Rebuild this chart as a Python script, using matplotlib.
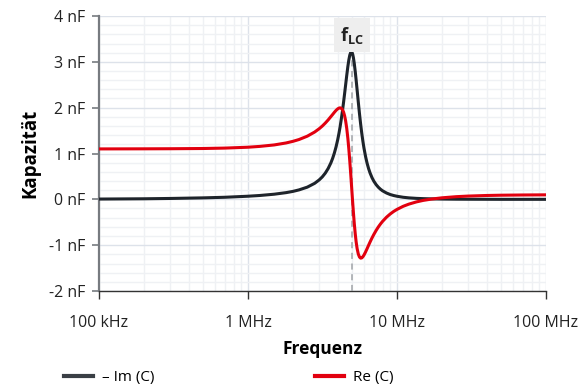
import matplotlib
matplotlib.use("Agg")
import matplotlib.pyplot as plt
from matplotlib.ticker import FixedLocator, LogLocator, NullFormatter
from matplotlib.lines import Line2D

# frequency points (MHz)
freq_mhz = [0.1, 0.2, 0.3, 0.5, 0.7, 1, 1.2, 1.5, 1.8, 2, 2.2, 2.5, 2.8, 3,
            3.15, 3.3, 3.45, 3.6, 3.7, 3.8, 3.9, 4.0, 4.08, 4.15, 4.22, 4.3,
            4.38, 4.45, 4.52, 4.6, 4.68, 4.75, 4.82, 4.9, 4.95, 5.0, 5.05,
            5.1, 5.17, 5.25, 5.32, 5.4, 5.5, 5.6, 5.7, 5.8, 5.9, 6.0, 6.15,
            6.3, 6.45, 6.6, 6.8, 7, 7.25, 7.5, 7.75, 8, 8.5, 9, 9.5, 10, 11,
            12, 13.5, 15, 17, 20, 25, 30, 40, 50, 70, 100]

# -Im(C) in nF
im_c = [0.006, 0.012, 0.019, 0.032, 0.045, 0.068, 0.084, 0.112, 0.146, 0.173,
        0.206, 0.266, 0.349, 0.422, 0.489, 0.571, 0.672, 0.796, 0.896, 1.012,
        1.146, 1.301, 1.443, 1.581, 1.732, 1.919, 2.121, 2.307, 2.495, 2.706,
        2.899, 3.040, 3.146, 3.212, 3.219, 3.200, 3.156, 3.088, 2.959, 2.776,
        2.598, 2.384, 2.119, 1.869, 1.644, 1.445, 1.272, 1.122, 0.936, 0.787,
        0.668, 0.572, 0.471, 0.393, 0.319, 0.263, 0.220, 0.186, 0.138, 0.105,
        0.083, 0.067, 0.045, 0.032, 0.021, 0.015, 0.010, 0.006, 0.003, 0.002,
        0.001, 0.0, 0.0, 0.0]

# Re(C) in nF
re_c = [1.100, 1.102, 1.104, 1.109, 1.118, 1.137, 1.155, 1.187, 1.230, 1.265,
        1.305, 1.378, 1.468, 1.539, 1.598, 1.663, 1.732, 1.805, 1.852, 1.899,
        1.941, 1.974, 1.991, 1.996, 1.989, 1.960, 1.903, 1.824, 1.715, 1.546,
        1.328, 1.098, 0.838, 0.515, 0.307, 0.100, -0.101, -0.291, -0.533,
        -0.767, -0.932, -1.075, -1.194, -1.259, -1.283, -1.278, -1.253,
        -1.217, -1.149, -1.075, -1.000, -0.929, -0.841, -0.763, -0.676,
        -0.601, -0.537, -0.481, -0.390, -0.320, -0.264, -0.220, -0.152,
        -0.105, -0.056, -0.023, 0.005, 0.033, 0.058, 0.071, 0.084, 0.090,
        0.095, 0.098]

f_lc = 5.0  # MHz
x_ticks = [0.1, 1, 10, 100]
x_labels = ["100 kHz", "1 MHz", "10 MHz", "100 MHz"]
y_ticks = [-2, -1, 0, 1, 2, 3, 4]
y_labels = ["-2 nF", "-1 nF", "0 nF", "1 nF", "2 nF", "3 nF", "4 nF"]

plt.rcParams['font.family'] = ['Open Sans', 'DejaVu Sans']
plt.rcParams['mathtext.fontset'] = 'custom'
plt.rcParams['mathtext.rm'] = 'Open Sans'
plt.rcParams['mathtext.bf'] = 'Open Sans:bold'

black = '#1e242b'
red = '#e2000f'

fig = plt.figure(figsize=(5.87, 3.92), dpi=100)
ax = fig.add_axes([99 / 587, 1 - 291 / 392, 447 / 587, 275 / 392])

ax.plot(freq_mhz, im_c, color=black, lw=2.2, zorder=4, solid_capstyle='round')
ax.plot(freq_mhz, re_c, color=red, lw=2.2, zorder=5, solid_capstyle='round')
ax.plot([f_lc, f_lc], [-2, 3.3], color='#a0a4a8', lw=1.1, ls=(0, (4, 3)), zorder=3)

ax.set_xscale('log')
ax.set_xlim(0.1, 100)
ax.set_ylim(-2, 4)

ax.xaxis.set_major_locator(FixedLocator(x_ticks))
ax.set_xticklabels(x_labels)
ax.xaxis.set_minor_locator(LogLocator(base=10, subs=range(2, 10)))
ax.xaxis.set_minor_formatter(NullFormatter())
ax.yaxis.set_major_locator(FixedLocator(y_ticks))
ax.set_yticklabels(y_labels)
ax.yaxis.set_minor_locator(FixedLocator([v / 5 for v in range(-10, 21)]))

ax.grid(which='major', color='#dde2ea', lw=1.0, zorder=0)
ax.grid(which='minor', color='#eff1f4', lw=1.0, zorder=0)
ax.set_axisbelow(True)

ax.tick_params(axis='x', which='major', length=6, width=1, color='#333333',
               labelsize=11.5, pad=11, labelcolor='#222222')
ax.tick_params(axis='y', which='major', length=5, width=1.2, color='#777b80',
               labelsize=11.5, pad=5, labelcolor='#222222')
ax.tick_params(which='minor', length=0)

for s in ['top', 'right']:
    ax.spines[s].set_visible(False)
ax.spines['left'].set_color('#777b80')
ax.spines['left'].set_linewidth(1.6)
ax.spines['bottom'].set_color('#333333')
ax.spines['bottom'].set_linewidth(1.0)

ax.set_xlabel('Frequenz', fontsize=12.5, fontweight='bold', labelpad=7)
ax.set_ylabel('Kapazität', fontsize=13.5, fontweight='bold', labelpad=6)

ax.text(f_lc, 3.58, r'$\mathbf{f}_{\mathbf{LC}}$', ha='center', va='center',
        fontsize=13, color='#222222', zorder=6,
        bbox=dict(boxstyle='square,pad=0.35', fc='#eeeeee', ec='none'))

handles = [Line2D([], [], color='#3a3f45', lw=3),
           Line2D([], [], color=red, lw=3)]
fig.legend(handles, ['– Im (C)', 'Re (C)'], loc='center left',
           bbox_to_anchor=(50 / 587, 1 - 378 / 392), ncol=2, frameon=False,
           fontsize=11, handlelength=1.9, columnspacing=10.5,
           handletextpad=0.6)

fig.savefig('out.png', dpi=100)
